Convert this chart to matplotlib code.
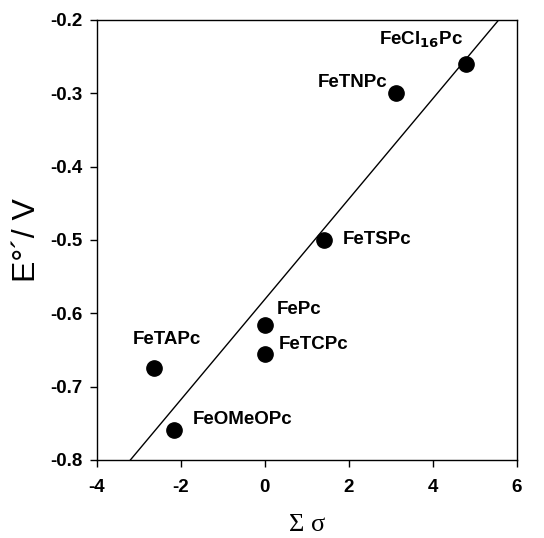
import matplotlib
matplotlib.use("Agg")
import matplotlib.pyplot as plt
import numpy as np

names = ["FeCl$_{\\mathbf{16}}$Pc", "FeTNPc", "FeTSPc", "FePc", "FeTCPc", "FeTAPc", "FeOMeOPc"]
sigma = [4.80, 3.12, 1.40, 0.0, 0.0, -2.65, -2.16]
E = [-0.260, -0.300, -0.500, -0.616, -0.655, -0.675, -0.759]
fit_x = [-3.2, 5.57]
fit_slope = 0.0684
fit_intercept = -0.581

label_pos = [(3.73, -0.227, "center"), (2.10, -0.286, "center"), (1.86, -0.500, "left"),
             (0.29, -0.595, "left"), (0.33, -0.643, "left"), (-2.33, -0.636, "center"),
             (-1.71, -0.745, "left")]

plt.rcParams["font.family"] = ["Liberation Sans", "DejaVu Sans"]
fig = plt.figure(figsize=(5.44, 5.38), dpi=100)
ax = fig.add_axes([0.178, 0.145, 0.772, 0.818])

fx = np.array(fit_x)
ax.plot(fx, fit_slope * fx + fit_intercept, color="black", lw=1.0)
ax.plot(sigma, E, "o", color="black", ms=11, zorder=3)

for n, (tx, ty, ha) in zip(names, label_pos):
    ax.text(tx, ty, n, ha=ha, va="center", fontsize=13.5, fontweight="bold")

ax.set_xlim(-4, 6)
ax.set_ylim(-0.8, -0.2)
ax.set_xticks([-4, -2, 0, 2, 4, 6])
ax.set_yticks([-0.8, -0.7, -0.6, -0.5, -0.4, -0.3, -0.2])
ax.set_xticklabels(["-4", "-2", "0", "2", "4", "6"])
ax.set_yticklabels(["-0.8", "-0.7", "-0.6", "-0.5", "-0.4", "-0.3", "-0.2"])
for lab in ax.get_xticklabels() + ax.get_yticklabels():
    lab.set_fontweight("bold")
    lab.set_fontsize(13.5)
ax.tick_params(direction="out", length=5, width=1)
ax.tick_params(axis="x", pad=9)
ax.tick_params(axis="y", pad=5)
for s in ax.spines.values():
    s.set_linewidth(1.0)

ax.set_xlabel("Σ σ", fontsize=19, family=["Liberation Serif", "DejaVu Serif"], labelpad=13)
ax.set_ylabel("E°´/ V", fontsize=23, labelpad=6)

fig.savefig("out.png", dpi=100)
